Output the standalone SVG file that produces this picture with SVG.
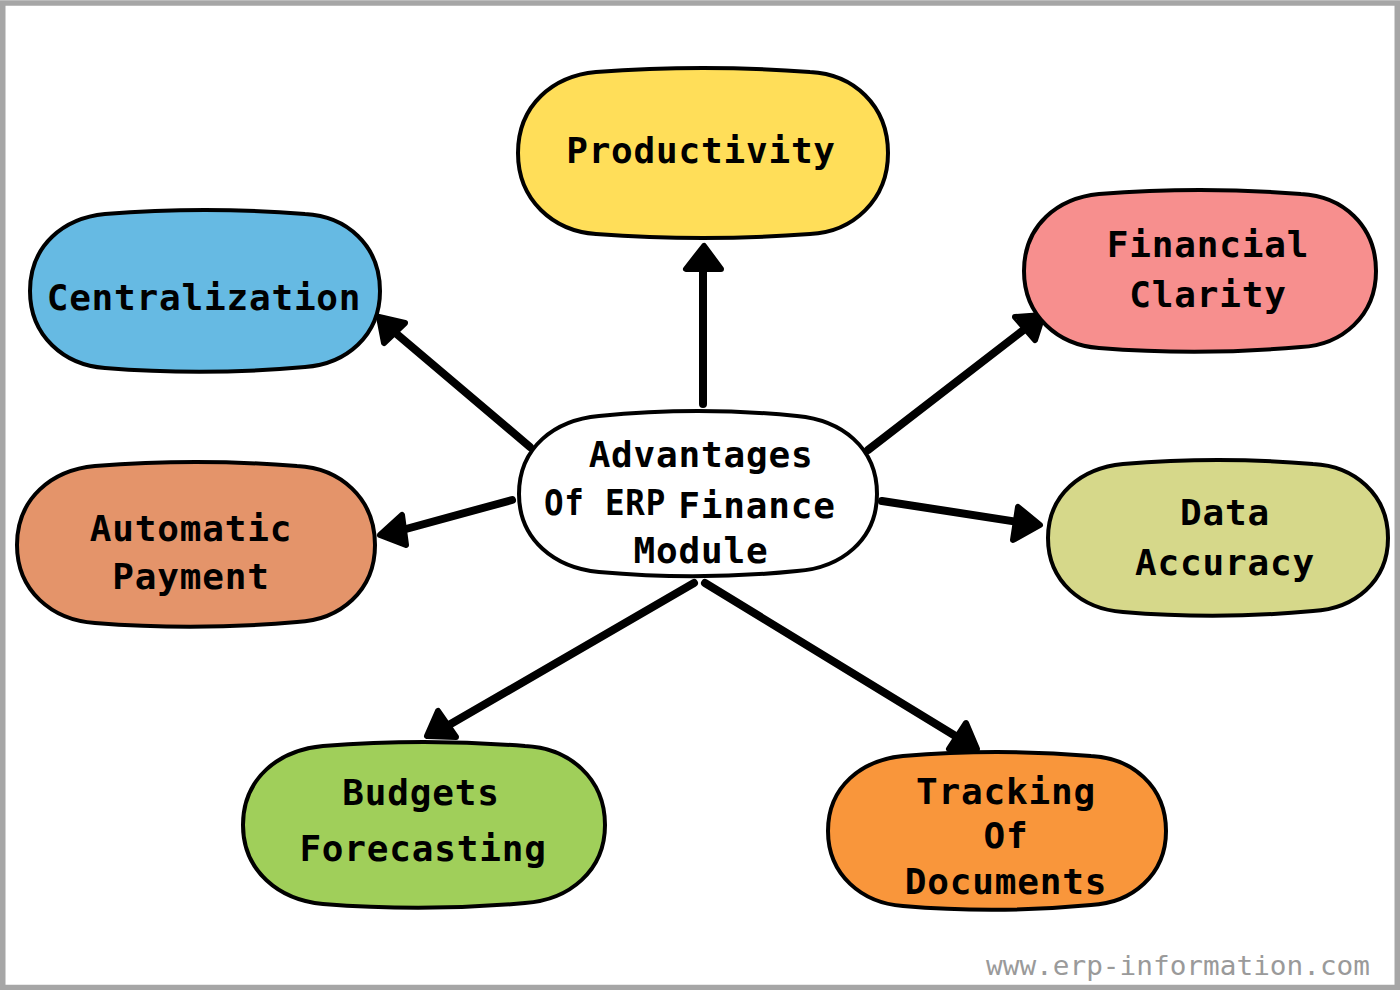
<svg xmlns="http://www.w3.org/2000/svg" width="1400" height="990" viewBox="0 0 1400 990">
<defs>
<style>
.node{stroke:#000;stroke-width:4;stroke-linejoin:round}
.lbl{font-family:"DejaVu Sans Mono","Liberation Mono",monospace;font-weight:bold;font-size:36px;fill:#000;text-anchor:middle;letter-spacing:0.8px}
.edge{stroke:#000;stroke-width:8;stroke-linecap:round;fill:none}
.head{fill:#000;stroke:#000;stroke-width:6;stroke-linejoin:round}
</style>
</defs>
<rect x="0" y="0" width="1400" height="990" fill="#fff"/>
<rect x="2.75" y="3" width="1394.5" height="984.5" fill="none" stroke="#a6a6a6" stroke-width="5.5"/>
<g id="connectors">
<line class="edge" x1="703" y1="404" x2="703" y2="262"/>
<polygon class="head" points="704,246 686,269 721,269"/>
<line class="edge" x1="530" y1="447" x2="392" y2="330"/>
<polygon class="head" points="379,317 405,323 384,343"/>
<line class="edge" x1="868" y1="450" x2="1030" y2="325"/>
<polygon class="head" points="1043,315 1015,317 1035,340"/>
<line class="edge" x1="512" y1="500" x2="395" y2="532"/>
<polygon class="head" points="380,535 402,515 406,545"/>
<line class="edge" x1="882" y1="501" x2="1025" y2="523"/>
<polygon class="head" points="1040,525 1018,507 1013,540"/>
<line class="edge" x1="694" y1="583" x2="442" y2="729"/>
<polygon class="head" points="438,711 427,736 456,737"/>
<line class="edge" x1="705" y1="583" x2="962" y2="740"/>
<polygon class="head" points="966,723 949,749 977,749"/>
</g>
<g id="productivity">
<path class="node" fill="#FFDE59" d="M596,72 Q703,64 810,72 C853,74 888,105 888,153 C888,200 853,232 810,234 Q703,242 596,234 C553,231 518,200 518,153 C518,105 553,76 596,72 Z"/>
<text class="lbl" x="701" y="163">Productivity</text>
</g>
<g id="centralization">
<path class="node" fill="#66BAE3" d="M105,214 Q205,206 305,214 C346,216 380,245 380,291 C380,336 346,364 305,367 Q205,376 105,368 C64,365 30,336 30,291 C30,245 64,218 105,214 Z"/>
<text class="lbl" x="204" y="310">Centralization</text>
</g>
<g id="financial-clarity">
<path class="node" fill="#F78F8E" d="M1099,194 Q1200,186 1301,194 C1342,196 1376,225 1376,271 C1376,316 1342,345 1301,347 Q1200,356 1099,348 C1058,345 1024,316 1024,271 C1024,225 1058,198 1099,194 Z"/>
<text class="lbl" x="1208" y="257">Financial</text>
<text class="lbl" x="1208" y="307">Clarity</text>
</g>
<g id="automatic-payment">
<path class="node" fill="#E4946A" d="M95,466 Q196,458 297,466 C340,468 375,498 375,545 C375,591 340,620 297,622 Q196,631 95,623 C52,620 17,591 17,545 C17,498 52,470 95,466 Z"/>
<text class="lbl" x="191" y="541">Automatic</text>
<text class="lbl" x="191" y="589">Payment</text>
</g>
<g id="data-accuracy">
<path class="node" fill="#D6D88A" d="M1123,464 Q1218,456 1313,464 C1354,466 1388,494 1388,538 C1388,582 1354,609 1313,611 Q1218,620 1123,612 C1082,609 1048,582 1048,538 C1048,494 1082,468 1123,464 Z"/>
<text class="lbl" x="1225" y="525">Data</text>
<text class="lbl" x="1225" y="575">Accuracy</text>
</g>
<g id="center">
<path class="node" fill="#FFFFFF" d="M599,416 Q698,406 797,416 C841,420 877,447 877,494 C877,540 841,568 797,571 Q698,581 599,572 C555,568 519,540 519,494 C519,447 555,420 599,416 Z"/>
<text class="lbl" x="701" y="467">Advantages</text>
<text class="lbl" x="605" y="515" textLength="122" lengthAdjust="spacingAndGlyphs">Of ERP</text>
<text class="lbl" x="757" y="518">Finance</text>
<text class="lbl" x="701" y="563">Module</text>
</g>
<g id="budgets-forecasting">
<path class="node" fill="#A0CF5A" d="M323,746 Q424,738 525,746 C569,748 605,778 605,825 C605,871 569,900 525,903 Q424,912 323,904 C279,900 243,871 243,825 C243,778 279,750 323,746 Z"/>
<text class="lbl" x="421" y="805">Budgets</text>
<text class="lbl" x="423" y="861">Forecasting</text>
</g>
<g id="tracking-of-documents">
<path class="node" fill="#F9963B" d="M903,756 Q997,748 1091,756 C1132,758 1166,786 1166,831 C1166,875 1132,903 1091,905 Q997,914 903,906 C862,903 828,875 828,831 C828,786 862,760 903,756 Z"/>
<text class="lbl" x="1006" y="804">Tracking</text>
<text class="lbl" x="1006" y="848">Of</text>
<text class="lbl" x="1006" y="894">Documents</text>
</g>
<text x="986" y="975" font-family="DejaVu Sans Mono, Liberation Mono, monospace" font-size="27" fill="#9a9a9a" textLength="384" lengthAdjust="spacingAndGlyphs">www.erp-information.com</text>
</svg>
